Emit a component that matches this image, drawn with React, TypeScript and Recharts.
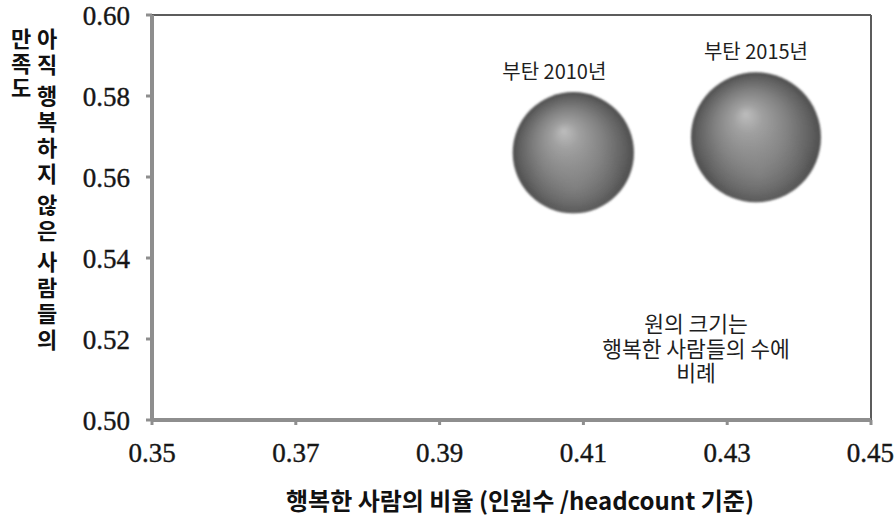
import React from "react";
import {
  ScatterChart,
  Scatter,
  XAxis,
  YAxis,
  ZAxis,
  ReferenceLine,
  Customized,
} from "recharts";

// Bhutan GNH: share of happy people vs. satisfaction of the not-yet-happy
const years = ["부탄 2010년", "부탄 2015년"];
const happyShare = [0.4086, 0.434];
const unhappySatisfaction = [0.566, 0.5698];
const happyCount = [1.0, 1.15];

const xTicks = [0.35, 0.37, 0.39, 0.41, 0.43, 0.45];
const yTicks = [0.5, 0.52, 0.54, 0.56, 0.58, 0.6];

const yTitleOuter = "만족도";
const yTitleInner = "아직 행복하지 않은 사람들의";
const xTitle = "행복한 사람의 비율 (인원수 /headcount 기준)";
const note = ["원의 크기는", "행복한 사람들의 수에", "비례"];

const data = years.map((label, i) => ({
  label,
  x: happyShare[i],
  y: unhappySatisfaction[i],
  z: happyCount[i],
}));

const KO = "'Noto Sans CJK KR', 'Noto Sans', sans-serif";
const SERIF = "'Liberation Serif', serif";
const AXIS_GRAY = "#8e8e8e";
const labelShift = [-19, 0];

const tickStyle = {
  fontFamily: SERIF,
  fontSize: 27,
  fill: "#161616",
  stroke: "#161616",
  strokeWidth: 0.4,
};

function Sphere(props: any) {
  const { cx, cy, width, payload, index } = props;
  const r = width / 2;
  const dx = labelShift[index] ?? 0;
  return (
    <g>
      <circle cx={cx} cy={cy} r={r} fill="url(#sphereFill)" filter="url(#soft)" />
      <circle cx={cx} cy={cy} r={r} fill="url(#sphereRim)" />
      <text
        x={cx + dx}
        y={cy - r - 22}
        textAnchor="middle"
        dominantBaseline="central"
        fontFamily={KO}
        fontSize={20}
        fill="#1e1e1e"
      >
        {payload.label}
      </text>
    </g>
  );
}

// vertical column of Korean words, one text element per word
function VerticalWords({ text, x, y0, pitch, gap }: { text: string; x: number; y0: number; pitch: number; gap: number }) {
  const fontSize = 22;
  let y = y0;
  const out: React.ReactNode[] = [];
  text.split(" ").forEach((word, i) => {
    out.push(
      <text
        key={i}
        x={x}
        y={y - fontSize / 2}
        style={{ writingMode: "vertical-rl", textOrientation: "upright" } as any}
        letterSpacing={pitch - fontSize}
        fontFamily={KO}
        fontWeight={700}
        fontSize={fontSize}
        fill="#111"
      >
        {word}
      </text>
    );
    y += Array.from(word).length * pitch + gap;
  });
  return <g>{out}</g>;
}

function Extras() {
  return (
    <g>
      <defs>
        <radialGradient id="sphereFill" cx="0.5" cy="0.5" r="0.5" fx="0.42" fy="0.32">
          <stop offset="0%" stopColor="#bdbdbd" />
          <stop offset="22%" stopColor="#a0a0a0" />
          <stop offset="55%" stopColor="#828282" />
          <stop offset="85%" stopColor="#626262" />
          <stop offset="100%" stopColor="#4e4e4e" />
        </radialGradient>
        <radialGradient id="sphereRim" cx="0.52" cy="0.78" r="0.4">
          <stop offset="0%" stopColor="#a0a0a0" stopOpacity={0.3} />
          <stop offset="100%" stopColor="#a0a0a0" stopOpacity={0} />
        </radialGradient>
        <filter id="soft" x="-10%" y="-10%" width="120%" height="120%">
          <feGaussianBlur stdDeviation="1.2" />
        </filter>
      </defs>
      <VerticalWords text={yTitleOuter} x={21} y0={39} pitch={24.5} gap={0} />
      <VerticalWords text={yTitleInner} x={47} y0={39} pitch={25.8} gap={5.5} />
      <text
        x={520}
        y={499}
        textAnchor="middle"
        dominantBaseline="central"
        fontFamily={KO}
        fontWeight={700}
        fontSize={24}
        fill="#111"
      >
        {xTitle}
      </text>
      <text
        textAnchor="middle"
        dominantBaseline="central"
        fontFamily={KO}
        fontSize={21.5}
        fill="#1e1e1e"
      >
        {note.map((line, i) => (
          <tspan key={i} x={696} y={322 + i * 24.5}>
            {line}
          </tspan>
        ))}
      </text>
    </g>
  );
}

export default function App() {
  return (
    <div style={{ position: "absolute", left: 0, top: 0, width: 894, height: 515, background: "#fff" }}>
      <ScatterChart
        width={894}
        height={515}
        margin={{ top: 15, right: 23, bottom: 55, left: 82 }}
      >
        <Customized component={Extras} />
        <XAxis
          type="number"
          dataKey="x"
          domain={[0.35, 0.45]}
          ticks={xTicks}
          tickFormatter={(v: number) => v.toFixed(2)}
          allowDataOverflow
          height={40}
          axisLine={{ stroke: AXIS_GRAY, strokeWidth: 4 }}
          tickLine={{ stroke: AXIS_GRAY, strokeWidth: 3 }}
          tickSize={5}
          tickMargin={18}
          tick={tickStyle}
        />
        <YAxis
          type="number"
          dataKey="y"
          domain={[0.5, 0.6]}
          ticks={yTicks}
          tickFormatter={(v: number) => v.toFixed(2)}
          allowDataOverflow
          width={70}
          axisLine={{ stroke: AXIS_GRAY, strokeWidth: 4 }}
          tickLine={{ stroke: AXIS_GRAY, strokeWidth: 3 }}
          tickSize={6}
          tickMargin={16}
          tick={tickStyle}
        />
        <ZAxis type="number" dataKey="z" domain={[0, 1.15]} range={[0, Math.PI * 65 * 65]} />
        <ReferenceLine y={0.6} stroke="#5c5c5c" strokeWidth={2} />
        <ReferenceLine x={0.45} stroke="#5c5c5c" strokeWidth={2} />
        <Scatter data={data} shape={Sphere} isAnimationActive={false} />
      </ScatterChart>
    </div>
  );
}
